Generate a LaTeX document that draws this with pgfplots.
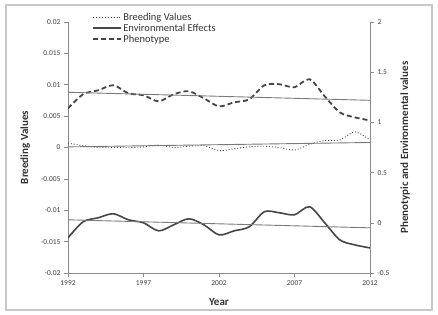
\documentclass[border=0pt]{standalone}
\usepackage{fontspec}
\setmainfont{Carlito}
\usepackage{pgfplots}
\pgfplotsset{compat=1.18}
\definecolor{linec}{HTML}{454545}
\definecolor{trendc}{HTML}{7A7A7A}
\definecolor{axc}{HTML}{8C8C8C}
\definecolor{framec}{HTML}{C8C8C8}
\begin{document}
\begin{tikzpicture}
\pgfplotsset{
  common/.style={
    scale only axis, width=302pt, height=251pt,
    xmin=1992, xmax=2012,
    axis line style={axc, line width=0.8pt},
    tick style={axc, line width=0.6pt},
    tick align=outside, major tick length=4pt,
    scaled y ticks=false, scaled x ticks=false,
    tick label style={font=\fontsize{7.5}{8}\selectfont, text=black!75},
    label style={font=\fontsize{11}{12}\selectfont\bfseries, text=black!80},
  }
}
\begin{axis}[common,
  axis x line*=bottom, axis y line*=left,
  ymin=-0.02, ymax=0.02,
  ytick={-0.02,-0.015,-0.01,-0.005,0,0.005,0.01,0.015,0.02},
  yticklabels={-0.02,-0.015,-0.01,-0.005,0,0.005,0.01,0.015,0.02},
  xtick={1992,1997,2002,2007,2012},
  xticklabels={1992,1997,2002,2007,2012},
  xlabel={Year}, ylabel={Breeding Values},
  xlabel style={at={(rel axis cs:0.5,-0.116)}, anchor=center},
  ylabel style={at={(rel axis cs:-0.142,0.5)}, anchor=center},
]
\addplot[linec, line width=0.9pt, dotted, smooth] coordinates {
(1992,0.0007) (1993,0.0003) (1994,0.0000) (1995,0.0000) (1996,0.0000)
(1997,0.0001) (1998,0.0004) (1999,0.0000) (2000,0.0002) (2001,0.0003)
(2002,-0.0005) (2003,-0.0002) (2004,0.0001) (2005,0.0002) (2006,0.0000)
(2007,-0.0004) (2008,0.0005) (2009,0.0011) (2010,0.0012) (2011,0.0025)
(2012,0.0012)};
\addplot[trendc, line width=0.9pt] coordinates {(1992,0.0001) (2012,0.0008)};
\end{axis}
\begin{axis}[common,
  axis y line*=right, axis x line=none,
  ymin=-0.5, ymax=2,
  ytick={-0.5,0,0.5,1,1.5,2},
  yticklabels={-0.5,0,0.5,1,1.5,2},
  ylabel={Phenotypic and Environmental values},
  ylabel style={at={(rel axis cs:1.116,0.5)}, anchor=center},
  legend style={draw=none, fill=none, at={(rel axis cs:0.08,1.04)}, anchor=north west,
    font=\fontsize{10.5}{13}\selectfont, text=black!80, inner sep=0pt,
    row sep=0pt, nodes={inner sep=1pt}},
  legend cell align=left,
  legend image code/.code={\draw[#1] (0pt,0pt) -- (28pt,0pt);},
]
\addlegendimage{linec, line width=0.9pt, dotted}
\addlegendentry{Breeding Values}
\addlegendimage{linec, line width=2pt}
\addlegendentry{Environmental Effects}
\addlegendimage{linec, line width=1.8pt, dash pattern=on 5pt off 3pt}
\addlegendentry{Phenotype}
\addplot[linec, line width=1.6pt, smooth, forget plot] coordinates {
(1992,-0.15) (1993,0.01) (1994,0.05) (1995,0.09) (1996,0.03)
(1997,0.00) (1998,-0.08) (1999,-0.02) (2000,0.04) (2001,-0.02)
(2002,-0.12) (2003,-0.08) (2004,-0.04) (2005,0.11) (2006,0.10)
(2007,0.08) (2008,0.16) (2009,0.00) (2010,-0.17) (2011,-0.22)
(2012,-0.25)};
\addplot[linec, line width=1.8pt, dash pattern=on 5pt off 3pt, smooth, forget plot] coordinates {
(1992,1.14) (1993,1.28) (1994,1.32) (1995,1.37) (1996,1.29)
(1997,1.27) (1998,1.21) (1999,1.28) (2000,1.31) (2001,1.24)
(2002,1.16) (2003,1.20) (2004,1.23) (2005,1.37) (2006,1.38)
(2007,1.35) (2008,1.43) (2009,1.26) (2010,1.10) (2011,1.05)
(2012,1.02)};
\addplot[trendc, line width=0.9pt, forget plot] coordinates {(1992,1.30) (2012,1.22)};
\addplot[trendc, line width=0.9pt, forget plot] coordinates {(1992,0.03) (2012,-0.05)};
\end{axis}
\draw[framec, line width=1.5pt] (-62pt,-37pt) rectangle (364pt,268pt);
\pgfresetboundingbox
\path (-68pt,-41pt) rectangle (370pt,273pt);
\end{tikzpicture}
\end{document}
